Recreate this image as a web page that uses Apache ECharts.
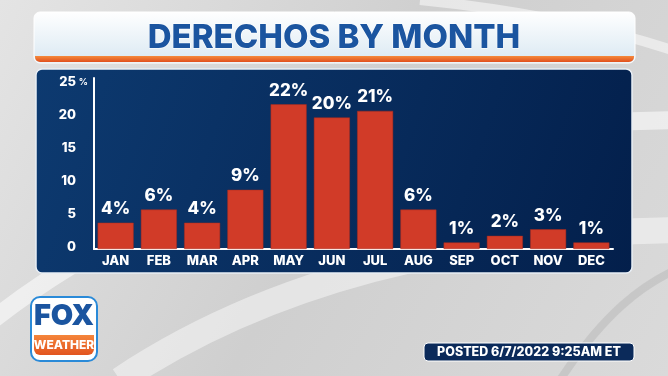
<!DOCTYPE html>
<html>
<head>
<meta charset="utf-8">
<script src="https://cdn.jsdelivr.net/npm/echarts@6/dist/echarts.min.js"></script>
<style>
  html, body { margin: 0; padding: 0; }
  #chart { width: 668px; height: 376px; }
</style>
</head>
<body>
<div id="chart"></div>
<script>
const months = ["JAN", "FEB", "MAR", "APR", "MAY", "JUN", "JUL", "AUG", "SEP", "OCT", "NOV", "DEC"];
const shares = [4, 6, 4, 9, 22, 20, 21, 6, 1, 2, 3, 1];
const yTicks = [0, 5, 10, 15, 20, 25];

const font = "Inter, 'Open Sans', sans-serif";

const chart = echarts.init(document.getElementById("chart"));

chart.setOption({
  animation: false,
  backgroundColor: {
    type: "linear", x: 0, y: 0, x2: 1, y2: 1,
    colorStops: [
      { offset: 0, color: "#e4e4e4" },
      { offset: 0.5, color: "#cfcfcf" },
      { offset: 1, color: "#dadada" },
    ],
  },
  graphic: [
    // background swooshes
    { type: "bezierCurve", z: -5, silent: true, shape: { x1: -20, y1: 330, x2: 700, y2: 120, cpx1: 200, cpy1: 150, cpx2: 480, cpy2: 120 }, style: { stroke: "rgba(255,255,255,0.55)", lineWidth: 18, fill: null } },
    { type: "bezierCurve", z: -5, silent: true, shape: { x1: 120, y1: 380, x2: 700, y2: 230, cpx1: 300, cpy1: 260, cpx2: 520, cpy2: 230 }, style: { stroke: "rgba(255,255,255,0.45)", lineWidth: 26, fill: null } },
    { type: "bezierCurve", z: -5, silent: true, shape: { x1: 420, y1: 0, x2: 700, y2: 60, cpx1: 520, cpy1: 10, cpx2: 620, cpy2: 30 }, style: { stroke: "rgba(255,255,255,0.5)", lineWidth: 10, fill: null } },
    { type: "bezierCurve", z: -5, silent: true, shape: { x1: 560, y1: 380, x2: 700, y2: 260, cpx1: 600, cpy1: 320, cpx2: 640, cpy2: 280 }, style: { stroke: "rgba(170,170,170,0.35)", lineWidth: 8, fill: null } },
    // title banner
    {
      type: "rect", z: 1, silent: true,
      shape: { x: 34, y: 12, width: 601, height: 51, r: 6 },
      style: { fill: { type: "linear", x: 0, y: 0, x2: 0, y2: 1, colorStops: [{ offset: 0, color: "#ffffff" }, { offset: 1, color: "#d9e8f2" }] }, stroke: "#ffffff", lineWidth: 1 },
    },
    {
      type: "rect", z: 2, silent: true,
      shape: { x: 35, y: 56, width: 599, height: 6, r: [0, 0, 5, 5] },
      style: { fill: { type: "linear", x: 0, y: 0, x2: 0, y2: 1, colorStops: [{ offset: 0, color: "#f58a3c" }, { offset: 1, color: "#e0501e" }] } },
    },
    {
      type: "text", z: 3, silent: true, left: "center", top: 21,
      style: { text: "DERECHOS BY MONTH", fill: "#1b55a0", font: "800 33px " + font, stroke: "#ffffff", lineWidth: 1 },
    },
    // chart panel
    {
      type: "rect", z: -1, silent: true,
      shape: { x: 36, y: 69, width: 596, height: 204, r: 6 },
      style: { fill: { type: "linear", x: 0, y: 0, x2: 1, y2: 1, colorStops: [{ offset: 0, color: "#0d3a70" }, { offset: 1, color: "#031f4b" }] }, stroke: "#e8eef5", lineWidth: 1.5 },
    },
    // logo
    {
      type: "rect", z: 1, silent: true,
      shape: { x: 31, y: 297, width: 66, height: 64, r: 9 },
      style: { fill: "#ffffff", stroke: "#2a8ad8", lineWidth: 2 },
    },
    {
      type: "rect", z: 2, silent: true,
      shape: { x: 34, y: 335, width: 60, height: 20, r: [0, 0, 6, 6] },
      style: { fill: { type: "linear", x: 0, y: 0, x2: 0, y2: 1, colorStops: [{ offset: 0, color: "#f5853a" }, { offset: 1, color: "#e2541f" }] } },
    },
    {
      type: "text", z: 3, silent: true, x: 64, y: 302,
      style: { text: "FOX", fill: "#1b55a0", font: "900 29px " + font, align: "center" },
    },
    {
      type: "text", z: 3, silent: true, x: 64, y: 339,
      style: { text: "WEATHER", fill: "#ffffff", font: "800 12px " + font, align: "center" },
    },
    // posted badge
    {
      type: "rect", z: 1, silent: true,
      shape: { x: 424, y: 343, width: 210, height: 18, r: 4 },
      style: { fill: "#0b2a5a", stroke: "#ffffff", lineWidth: 1 },
    },
    {
      type: "text", z: 2, silent: true, x: 529, y: 346,
      style: { text: "POSTED 6/7/2022 9:25AM ET", fill: "#ffffff", font: "800 12.5px " + font, align: "center" },
    },
  ],
  grid: {
    left: 94,
    right: 55,
    top: 78,
    bottom: 127,
    containLabel: false,
  },
  xAxis: {
    type: "category",
    data: months,
    axisTick: { show: false },
    axisLine: { lineStyle: { color: "#ffffff", width: 2 } },
    axisLabel: {
      color: "#ffffff",
      fontFamily: font,
      fontWeight: 800,
      fontSize: 13,
      margin: 6,
      interval: 0,
    },
  },
  yAxis: {
    type: "value",
    min: 0,
    max: 26,
    interval: 5,
    axisLine: { show: true, lineStyle: { color: "#ffffff", width: 2 } },
    axisTick: { show: false },
    splitLine: { show: false },
    axisLabel: {
      margin: 6,
      showMaxLabel: false,
      formatter: (v) => {
        if (yTicks.indexOf(v) < 0) return "";
        return v === 25 ? "{n|" + v + "}{p|%}" : "{n|" + v + "}{p|}";
      },
      rich: {
        n: { color: "#ffffff", fontFamily: font, fontWeight: 800, fontSize: 13, width: 22, align: "right", padding: [0, 0, 4, 0] },
        p: { color: "#ffffff", fontFamily: font, fontWeight: 700, fontSize: 9, width: 12, align: "right", padding: [0, 0, 4, 0] },
      },
    },
  },
  series: [
    {
      type: "bar",
      data: shares,
      barWidth: 36,
      itemStyle: {
        color: "#d13b28",
        borderColor: "#a92a1c",
        borderWidth: 0.5,
      },
      label: {
        show: true,
        position: "top",
        distance: 5,
        formatter: "{c}%",
        color: "#ffffff",
        fontFamily: font,
        fontWeight: 800,
        fontSize: 17,
      },
    },
  ],
});
</script>
</body>
</html>
